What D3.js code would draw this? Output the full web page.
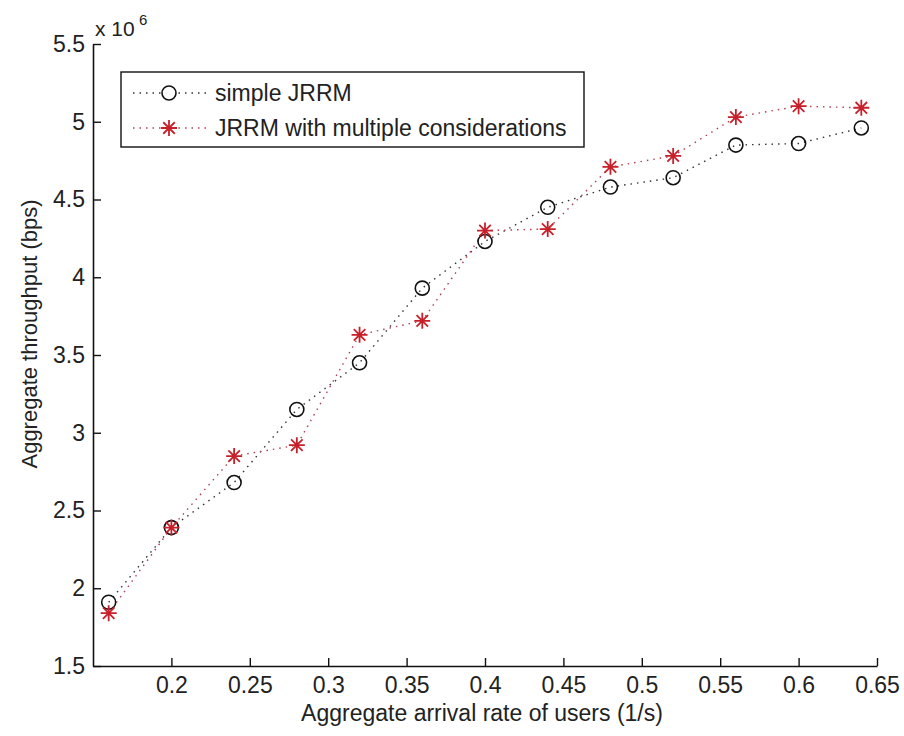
<!DOCTYPE html>
<html><head><meta charset="utf-8">
<script src="https://cdn.jsdelivr.net/npm/d3@7"></script>
<style>body{margin:0;background:#fff}svg text{font-family:Arial,"Liberation Sans",sans-serif;fill:#222}</style>
</head><body>
<svg id="c" width="904" height="736"></svg>
<script>
const arrivalRate = [0.16,0.20,0.24,0.28,0.32,0.36,0.40,0.44,0.48,0.52,0.56,0.60,0.64];
const simpleJRRM = [1.91,2.39,2.68,3.15,3.45,3.93,4.23,4.45,4.58,4.64,4.85,4.86,4.96];
const multiJRRM  = [1.84,2.39,2.85,2.92,3.63,3.72,4.30,4.31,4.71,4.78,5.03,5.10,5.09];
const xTicks = [0.2,0.25,0.3,0.35,0.4,0.45,0.5,0.55,0.6,0.65];
const yTicks = [1.5,2,2.5,3,3.5,4,4.5,5,5.5];
const seriesNames = ["simple JRRM","JRRM with multiple considerations"];

const svg = d3.select("#c");
const L=93,R=877,T=44,B=666;
const x = d3.scaleLinear().domain([0.15,0.65]).range([L,R]);
const y = d3.scaleLinear().domain([1.5,5.5]).range([B,T]);
const fs = 23;

const xa = svg.append("g").attr("transform",`translate(0,${B})`)
  .call(d3.axisBottom(x).tickValues(xTicks).tickSizeInner(-8).tickSizeOuter(0).tickPadding(11).tickFormat(d=>String(d)));
const ya = svg.append("g").attr("transform",`translate(${L},0)`)
  .call(d3.axisLeft(y).tickValues(yTicks).tickSizeInner(-8).tickSizeOuter(0).tickPadding(8).tickFormat(d=>String(d)));
[xa,ya].forEach(a=>{
  a.select(".domain").attr("stroke","#111").attr("stroke-width",1.6);
  a.selectAll(".tick line").attr("stroke","#111").attr("stroke-width",1.4);
  a.selectAll(".tick text").style("font-size",fs+"px").attr("fill","#222");
});
svg.append("text").attr("x",95).attr("y",36).style("font-size","21px").text("x 10");
svg.append("text").attr("x",139).attr("y",25).style("font-size","15px").text("6");

svg.append("text").attr("x",482).attr("y",721).attr("text-anchor","middle").style("font-size",fs+"px")
  .text("Aggregate arrival rate of users (1/s)");
svg.append("text").attr("transform",`translate(37,334) rotate(-90)`).attr("text-anchor","middle").style("font-size","22px")
  .text("Aggregate throughput (bps)");

const red="#c8202a";
const line = d3.line().x((d,i)=>x(arrivalRate[i])).y(d=>y(d));
function starPath(cx,cy,r){
  const a=r*0.72;
  return `M${cx-r},${cy}L${cx+r},${cy}M${cx},${cy-r}L${cx},${cy+r}M${cx-a},${cy-a}L${cx+a},${cy+a}M${cx-a},${cy+a}L${cx+a},${cy-a}`;
}
svg.append("path").datum(simpleJRRM).attr("d",line).attr("fill","none").attr("stroke","#333").attr("stroke-width",1.4).attr("stroke-dasharray","1.5,5");
svg.append("path").datum(multiJRRM).attr("d",line).attr("fill","none").attr("stroke","#b04050").attr("stroke-width",1.4).attr("stroke-dasharray","1.5,5");
svg.append("g").selectAll("circle").data(simpleJRRM).join("circle")
  .attr("cx",(d,i)=>x(arrivalRate[i])).attr("cy",d=>y(d)).attr("r",7)
  .attr("fill","none").attr("stroke","#111").attr("stroke-width",1.6);
svg.append("g").selectAll("path").data(multiJRRM).join("path")
  .attr("d",(d,i)=>starPath(x(arrivalRate[i]),y(d),8)).attr("stroke",red).attr("stroke-width",1.8).attr("fill","none");

const lg = svg.append("g");
lg.append("rect").attr("x",121).attr("y",72).attr("width",463).attr("height",75).attr("fill","#fff").attr("stroke","#111").attr("stroke-width",1.4);
const rows=[93,128];
rows.forEach((ry,k)=>{
  lg.append("line").attr("x1",133).attr("x2",208).attr("y1",ry).attr("y2",ry)
    .attr("stroke",k===0?"#333":"#b04050").attr("stroke-width",1.4).attr("stroke-dasharray","1.5,5");
  if(k===0) lg.append("circle").attr("cx",169).attr("cy",ry).attr("r",7).attr("fill","#fff").attr("stroke","#111").attr("stroke-width",1.6);
  else lg.append("path").attr("d",starPath(169,ry,8)).attr("stroke",red).attr("stroke-width",1.8).attr("fill","none");
  lg.append("text").attr("x",215).attr("y",ry+8).style("font-size",fs+"px").text(seriesNames[k]);
});
</script>
</body></html>
